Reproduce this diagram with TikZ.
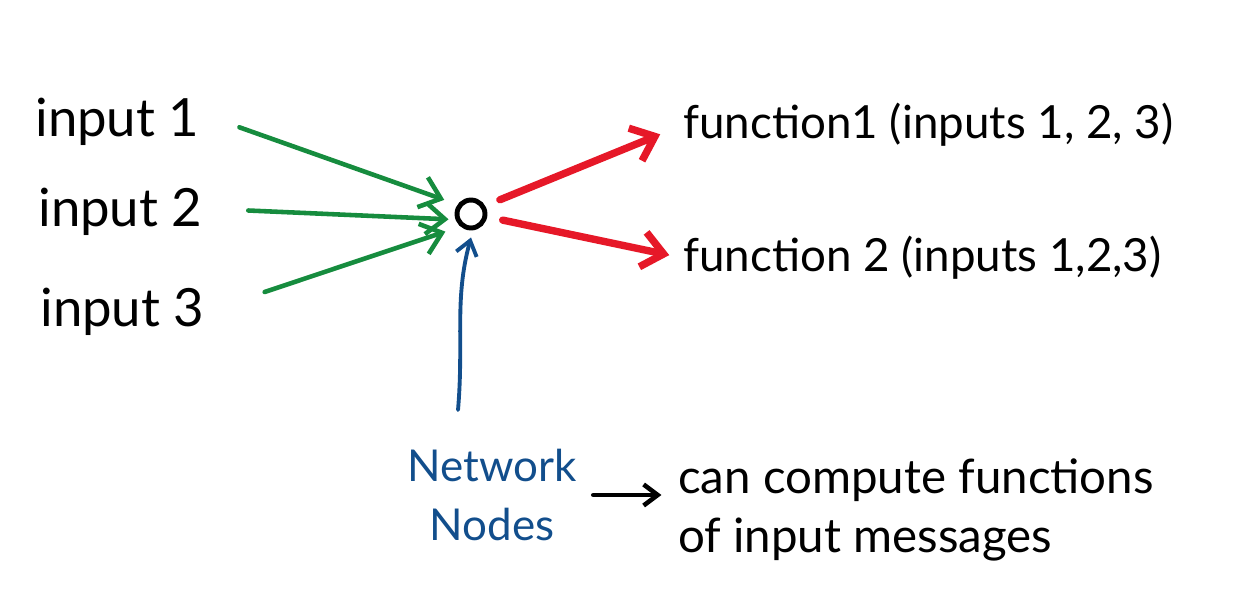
\documentclass[tikz,border=0pt]{standalone}
\usepackage{fontspec}
\setmainfont{Lato}
\usetikzlibrary{arrows.meta}
\definecolor{inkgreen}{RGB}{22,140,62}
\definecolor{inkred}{RGB}{230,24,40}
\definecolor{inkblue}{RGB}{18,78,140}
\begin{document}
\begin{tikzpicture}[x=0.02cm,y=-0.02cm,
    hand/.style={font=\fontsize{30}{36}\selectfont,anchor=west,inner sep=0pt},
    fnlabel/.style={font=\fontsize{26}{32}\selectfont,anchor=west,inner sep=0pt},
    inedge/.style={inkgreen,line width=2.6pt,line cap=round,line join=round,-{Straight Barb[length=11pt,width=18pt]}},
    outedge/.style={inkred,line width=4.2pt,line cap=round,line join=round,-{Straight Barb[length=12pt,width=20pt]}}]
    \useasboundingbox (0,0) rectangle (1257,609);

    % ingressi
    \node[hand] (in1) at (35,122) {input 1};
    \node[hand] (in2) at (38,212) {input 2};
    \node[hand] (in3) at (40,312) {input 3};

    % nodo di rete
    \node[draw,circle,line width=2.8pt,minimum size=0.56cm,inner sep=0pt] (hub) at (471,214) {};

    % uscite
    \node[fnlabel] (fn1) at (683,125) {function1 (inputs 1, 2, 3)};
    \node[fnlabel] (fn2) at (683,258) {function 2 (inputs 1,2,3)};

    % frecce verdi
    \draw[inedge,shorten <=24pt,shorten >=8pt] ([yshift=5pt]in1.east) -- (hub.145);
    \draw[inedge,shorten <=26pt,shorten >=4pt] ([yshift=2pt]in2.east) -- (hub.200);
    \draw[inedge,shorten <=36pt,shorten >=9pt] (in3.east) -- (hub.230);

    % frecce rosse
    \draw[outedge,shorten <=9pt,shorten >=14pt] (hub.30) -- (fn1.west);
    \draw[outedge,shorten <=9pt,shorten >=8pt] (hub.-10) -- (fn2.west);

    % etichetta blu
    \node[inkblue,font=\fontsize{25}{34}\selectfont,align=center] (net) at (492,495) {Network\\Nodes};
    \coordinate (tail) at (458,410);
    \draw[inkblue,line width=2.2pt,line cap=round,line join=round,-{Straight Barb[length=8pt,width=12pt]}]
        (tail) .. controls (464,340) and (454,300) .. ([yshift=-4pt]hub.south);

    % spiegazione
    \node[font=\fontsize{27}{34}\selectfont,align=left,anchor=west] (can) at (672,510)
        {can compute functions\\of input messages};
    \draw[line width=2.6pt,line cap=round,line join=round,-{Straight Barb[length=8pt,width=12pt]},shorten <=6pt,shorten >=6pt]
        (net.east) -- (net.east -| can.west);
\end{tikzpicture}
\end{document}
